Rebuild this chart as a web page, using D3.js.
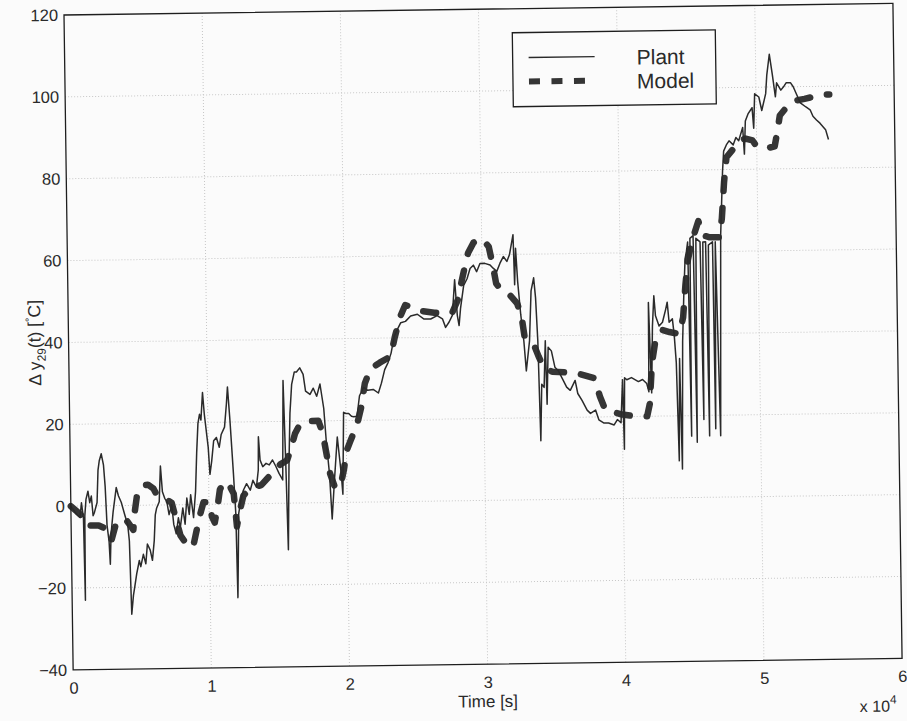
<!DOCTYPE html>
<html>
<head>
<meta charset="utf-8">
<script src="https://cdn.jsdelivr.net/npm/d3@7"></script>
<style>
  html, body { margin: 0; padding: 0; background: #fbfbfb; }
  svg { display: block; font-family: "Liberation Sans", Arial, Helvetica, sans-serif; }
</style>
</head>
<body>
<svg id="chart" width="907" height="721"></svg>
<script>
// Axis ticks (time axis is in units of 10^4 s)
const xTicks = [0, 1, 2, 3, 4, 5, 6];
const yTicks = [-40, -20, 0, 20, 40, 60, 80, 100, 120];
const seriesNames = ["Plant", "Model"];

// Measured plant response: [time (x10^4 s), Δy29 (°C)]
const plant = [
  [0,0],[0.017,-0.8],[0.04,-2],[0.065,-2.8],[0.077,0.8],[0.09,-3],[0.096,-23],[0.1,-2.4],[0.11,1.6],
  [0.125,3.6],[0.137,0.8],[0.149,2.4],[0.16,-2.4],[0.17,-1.6],[0.19,0.8],[0.2,8.7],[0.21,11],[0.225,12.7],
  [0.24,10],[0.25,4.8],[0.26,-4.8],[0.273,-8.7],[0.28,-14.3],[0.288,-7],[0.305,-1.6],[0.33,4.4],[0.345,2.4],
  [0.365,0.8],[0.39,-2.4],[0.41,-4.8],[0.42,-8.7],[0.43,-26.6],[0.444,-22],[0.455,-19.8],[0.47,-16.7],
  [0.49,-13.5],[0.5,-15],[0.52,-12],[0.537,-14.3],[0.55,-9.5],[0.57,-11],[0.585,-13.5],[0.6,-8.7],
  [0.61,-2.4],[0.62,-0.8],[0.64,0.8],[0.652,9.5],[0.664,3.2],[0.68,1.6],[0.695,0.8],[0.71,-2.4],[0.73,0],
  [0.743,-4.8],[0.76,-7.1],[0.777,-3.2],[0.79,-5.6],[0.81,-0.8],[0.825,-4.8],[0.84,1.6],[0.856,-2.4],
  [0.868,2.4],[0.887,-3.2],[0.904,3.2],[0.916,12.7],[0.928,19.8],[0.94,22],[0.95,20.6],[0.964,27.3],
  [0.975,22],[1.0,13.9],[1.01,7.3],[1.024,10.6],[1.04,15.5],[1.06,16.3],[1.08,13.9],[1.095,17],[1.12,18.8],
  [1.136,24.5],[1.145,28.6],[1.16,20.4],[1.18,7.3],[1.193,-2.4],[1.2,-22.9],[1.214,-2.4],[1.23,0.8],
  [1.25,3.3],[1.274,4.9],[1.3,3.3],[1.32,5.7],[1.345,4],[1.36,8.2],[1.364,16.3],[1.374,10.6],[1.393,9],
  [1.417,9.8],[1.44,9.4],[1.464,10.6],[1.488,9],[1.51,7.3],[1.536,5.7],[1.548,30],[1.56,9],[1.57,-11.4],
  [1.583,9.8],[1.595,22],[1.61,29],[1.63,32],[1.646,32],[1.67,33],[1.694,31.4],[1.71,27.3],[1.742,26.5],
  [1.766,28],[1.79,26],[1.815,29],[1.84,23],[1.855,15],[1.875,7],[1.89,-4],[1.91,5.3],[1.935,16],[1.96,7],
  [1.97,2],[1.983,22],[2.0,21.7],[2.02,21.7],[2.04,21],[2.056,20.9],[2.08,21],[2.1,26],[2.13,28],
  [2.16,27.3],[2.2,27.5],[2.237,26.6],[2.26,29],[2.285,32.3],[2.31,34],[2.333,36.3],[2.357,40.4],[2.38,42],
  [2.406,43.7],[2.44,44],[2.478,45.3],[2.527,45.7],[2.575,44.5],[2.623,44.5],[2.67,45.3],[2.708,44.5],
  [2.73,42.4],[2.756,43.7],[2.78,45.3],[2.8,54],[2.816,45.3],[2.828,42.8],[2.84,47],[2.865,52.6],
  [2.89,54.2],[2.913,56.7],[2.937,57.5],[2.96,55.9],[2.985,57.9],[3.02,57.9],[3.058,57.5],[3.08,56.7],
  [3.106,55.9],[3.13,57.9],[3.155,59.5],[3.18,58.3],[3.2,60],[3.227,64.8],[3.234,52.6],[3.244,61.5],
  [3.256,53.4],[3.275,45.3],[3.295,38.8],[3.31,31.5],[3.336,38.8],[3.352,51],[3.372,54.2],[3.384,49.3],
  [3.396,38.8],[3.408,14.4],[3.42,28.2],[3.437,27.4],[3.45,38.8],[3.457,23.3],[3.47,37.2],[3.493,36.3],
  [3.517,32.3],[3.54,31.5],[3.577,29],[3.6,27.4],[3.626,26.6],[3.662,29],[3.68,25.8],[3.71,24.1],
  [3.746,21.7],[3.77,20.9],[3.807,21.7],[3.83,19.3],[3.867,18.5],[3.9,18.5],[3.94,18],[3.964,19.3],
  [3.99,18.5],[4.005,29],[4.012,12],[4.02,29.5],[4.036,29],[4.07,29.5],[4.12,28.5],[4.15,29],[4.18,28],
  [4.195,26],[4.2,47.8],[4.215,25.7],[4.227,42],[4.24,49.4],[4.25,44.5],[4.275,42],[4.3,42.9],[4.324,46],
  [4.336,47.8],[4.348,42.9],[4.372,43.7],[4.384,39.6],[4.396,33],[4.408,9],[4.42,34],[4.43,7],[4.444,38],
  [4.457,49.4],[4.47,58.4],[4.48,60],[4.49,62.4],[4.5,15],[4.507,63.3],[4.53,64],[4.54,13.5],[4.55,63.3],
  [4.58,62.4],[4.59,19],[4.6,62.4],[4.62,62.4],[4.63,15],[4.64,61.6],[4.67,62.4],[4.675,16.7],[4.69,62.4],
  [4.71,15],[4.73,64],[4.75,79.6],[4.76,84.5],[4.78,86],[4.8,87],[4.83,86],[4.85,87.8],[4.87,87],[4.9,90.2],
  [4.91,83.7],[4.92,91.8],[4.94,93.5],[4.97,95],[4.98,90],[4.99,98.4],[5.02,97.6],[5.04,94.3],[5.07,98.4],
  [5.08,103],[5.1,108],[5.12,103],[5.14,97.6],[5.15,101],[5.18,99.2],[5.2,100],[5.22,101],[5.25,101],
  [5.27,100],[5.3,97.6],[5.32,96],[5.36,95],[5.39,94.3],[5.41,92.7],[5.435,91.8],[5.46,91],[5.5,89.4],
  [5.52,87]
];

// Identified model output: [time (x10^4 s), Δy29 (°C)]
const model = [
  [0,0],[0.04,-1.2],[0.08,-2.4],[0.1,-4.6],[0.15,-4.8],[0.2,-4.8],[0.25,-5.6],[0.29,-8.5],[0.32,-5],
  [0.36,-3.3],[0.4,-3.6],[0.43,-5],[0.45,-6],[0.46,-2],[0.48,2.5],[0.52,4.8],[0.56,5],[0.6,4],[0.63,2],
  [0.68,1.5],[0.73,0.5],[0.76,-3.5],[0.79,-7.5],[0.83,-9.5],[0.88,-10.5],[0.9,-7.5],[0.93,-3],[0.96,0.5],
  [1.0,0.5],[1.02,-3],[1.04,-4.5],[1.06,-1],[1.08,3.5],[1.11,5.5],[1.15,4.5],[1.18,2.5],[1.2,-5.5],
  [1.22,-2],[1.25,2],[1.3,3.8],[1.38,4.5],[1.45,7],[1.52,9.5],[1.57,10.5],[1.6,13.5],[1.63,17],[1.67,19.5],
  [1.72,20],[1.8,20],[1.83,17],[1.86,11],[1.88,7],[1.91,4],[1.95,3.5],[1.98,8],[2.0,12.5],[2.03,15],
  [2.08,19],[2.11,23],[2.14,29],[2.18,32.5],[2.25,34],[2.33,35.5],[2.36,40],[2.4,45],[2.44,48],[2.48,47.5],
  [2.55,46.5],[2.65,46],[2.78,46],[2.82,49],[2.86,55],[2.9,60.5],[2.94,63],[3.0,64],[3.05,62],[3.08,57],
  [3.1,53],[3.14,51],[3.2,50],[3.25,48],[3.28,45],[3.3,40],[3.36,38.5],[3.4,35],[3.44,32],[3.5,31.2],
  [3.6,31],[3.7,30.5],[3.8,29.5],[3.84,25],[3.88,21.5],[3.95,21],[4.0,20.5],[4.1,20],[4.18,20],[4.2,23],
  [4.22,33],[4.25,39],[4.3,41],[4.35,40.5],[4.42,40],[4.45,44],[4.47,52],[4.49,58],[4.52,62.5],[4.57,67.5],
  [4.6,64],[4.65,63.5],[4.72,63.5],[4.74,68],[4.76,77],[4.78,83],[4.83,85],[4.87,87],[4.92,87.5],[4.97,87],
  [5.0,85.5],[5.07,85],[5.13,85.5],[5.15,89],[5.17,93],[5.22,95],[5.27,96.5],[5.35,97],[5.42,97.5],
  [5.5,98],[5.53,98]
];

// Plot frame: the whole axes box sits slightly tilted on the page
const frame = { left: 64, top: 15, width: 829, height: 655, tilt: -0.8 };
const ink = "#2a2a2a";

const svg = d3.select("#chart");
const g = svg.append("g")
  .attr("transform", `translate(${frame.left},${frame.top}) rotate(${frame.tilt})`);

const x = d3.scaleLinear().domain([0, 6]).range([0, frame.width]);
const y = d3.scaleLinear().domain([-40, 120]).range([frame.height, 0]);

// Dotted grid
const grid = g.append("g").attr("stroke", "#c6c6c6").attr("stroke-width", 1).attr("stroke-dasharray", "1 2");
grid.selectAll("line.gx").data(xTicks.slice(1, -1)).join("line")
  .attr("class", "gx")
  .attr("x1", d => x(d)).attr("x2", d => x(d))
  .attr("y1", 0).attr("y2", frame.height);
grid.selectAll("line.gy").data(yTicks.slice(1, -1)).join("line")
  .attr("class", "gy")
  .attr("x1", 0).attr("x2", frame.width)
  .attr("y1", d => y(d)).attr("y2", d => y(d));

// Tick labels
const xAxis = g.append("g")
  .attr("transform", `translate(0,${frame.height})`)
  .call(d3.axisBottom(x).tickValues(xTicks).tickSize(0).tickPadding(12).tickFormat(d3.format("d")));
const yAxis = g.append("g")
  .call(d3.axisLeft(y).tickValues(yTicks).tickSize(0).tickPadding(6)
    .tickFormat(d => d < 0 ? "\u2212" + Math.abs(d) : String(d)));
[xAxis, yAxis].forEach(a => {
  a.select(".domain").remove();
  a.selectAll("text").attr("fill", ink).attr("font-size", 16.5)
    .attr("font-family", "\"Liberation Sans\", Arial, sans-serif");
});

// Series
const line = d3.line().x(d => x(d[0])).y(d => y(d[1]));

g.append("path").datum(model)
  .attr("fill", "none").attr("stroke", "#353535").attr("stroke-width", 6.5)
  .attr("stroke-linecap", "round").attr("stroke-linejoin", "round")
  .attr("stroke-dasharray", "13 17")
  .attr("d", line);

g.append("path").datum(plant)
  .attr("fill", "none").attr("stroke", ink).attr("stroke-width", 1.5)
  .attr("stroke-linejoin", "round")
  .attr("d", line);

// Axes box
g.append("rect")
  .attr("x", 0).attr("y", 0).attr("width", frame.width).attr("height", frame.height)
  .attr("fill", "none").attr("stroke", "#1e1e1e").attr("stroke-width", 1.3);

// Axis titles
g.append("text")
  .attr("x", frame.width / 2).attr("y", frame.height + 43)
  .attr("text-anchor", "middle").attr("font-size", 17).attr("fill", ink)
  .text("Time [s]");

const mult = g.append("text")
  .attr("x", frame.width - 43).attr("y", frame.height + 53)
  .attr("font-size", 16).attr("fill", ink);
mult.append("tspan").text("x 10");
mult.append("tspan").attr("dy", -8).attr("font-size", 12).text("4");

const yl = g.append("text")
  .attr("transform", `translate(-28,${frame.height / 2}) rotate(-90)`)
  .attr("text-anchor", "middle").attr("font-size", 17.5).attr("fill", ink);
yl.append("tspan").text("\u0394 y");
yl.append("tspan").attr("dy", 5).attr("font-size", 12).text("29");
yl.append("tspan").attr("dy", -5).text("(t) [");
yl.append("tspan").attr("dy", -7).attr("font-size", 11).text("\u00b0");
yl.append("tspan").attr("dy", 7).text("C]");

// Legend
const legend = g.append("g").attr("transform", "translate(448,24)");
legend.append("rect").attr("width", 203).attr("height", 74)
  .attr("fill", "#fbfbfb").attr("stroke", "#1e1e1e").attr("stroke-width", 1.3);
const legendStyles = [
  { width: 1.3, dash: null, cap: "butt", x2: 82 },
  { width: 6, dash: "11 11.5", cap: "butt", x2: 72 }
];
seriesNames.forEach((name, i) => {
  const row = legend.append("g").attr("transform", `translate(0,${25 + i * 24})`);
  row.append("line").attr("x1", 16).attr("x2", legendStyles[i].x2)
    .attr("stroke", i === 0 ? ink : "#353535")
    .attr("stroke-width", legendStyles[i].width)
    .attr("stroke-linecap", legendStyles[i].cap)
    .attr("stroke-dasharray", legendStyles[i].dash);
  row.append("text").attr("x", 124).attr("y", 8.5)
    .attr("font-size", 21).attr("fill", ink).text(name);
});
</script>
</body>
</html>
